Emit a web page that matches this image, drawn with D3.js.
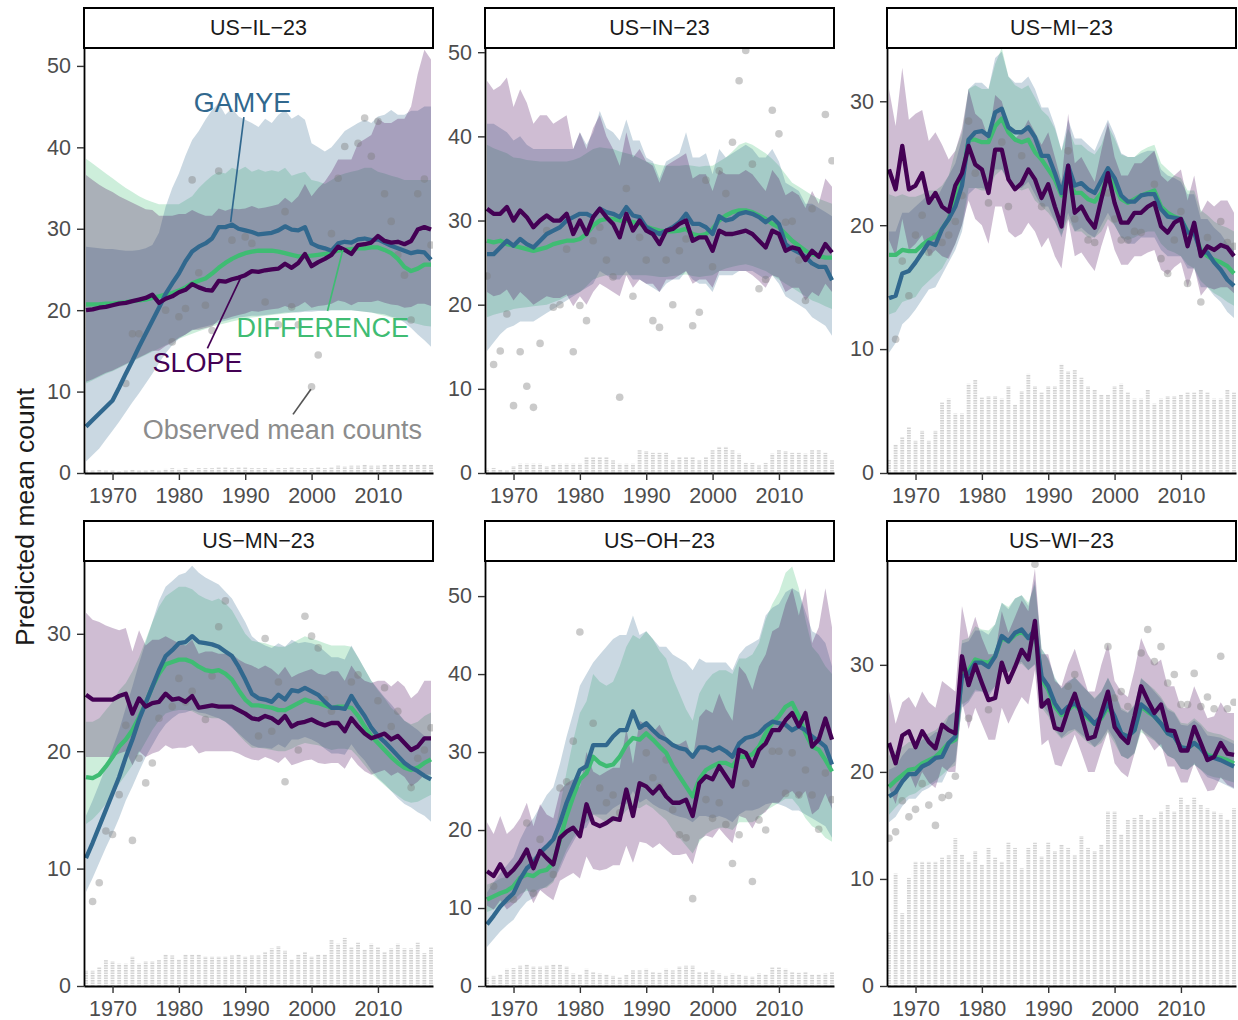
<!DOCTYPE html>
<html><head><meta charset="utf-8">
<script src="https://cdn.jsdelivr.net/npm/d3@7"></script>
<style>body{margin:0;background:#fff}svg{display:block}</style>
</head><body><svg id="chart" width="1238" height="1020"></svg>
<script>
// ---------------- DATA ----------------
const years = [1966,1967,1968,1969,1970,1971,1972,1973,1974,1975,1976,1977,1978,1979,1980,1981,1982,1983,1984,1985,1986,1987,1988,1989,1990,1991,1992,1993,1994,1995,1996,1997,1998,1999,2000,2001,2002,2003,2004,2005,2006,2007,2008,2009,2010,2011,2012,2013,2014,2015,2016,2017,2018];
const panelNames = ["US\u2212IL\u221223","US\u2212IN\u221223","US\u2212MI\u221223","US\u2212MN\u221223","US\u2212OH\u221223","US\u2212WI\u221223"];
const xTickValues = [1970,1980,1990,2000,2010];
const yTickSets = [[0,10,20,30,40,50],[0,10,20,30,40,50],[0,10,20,30],[0,10,20,30],[0,10,20,30,40,50],[0,10,20,30]];
const yMaxes = [52.2,50.5,34.3,36.2,54.5,39.7];
const modelNames = ["DIFFERENCE","GAMYE","SLOPE"];
const modelColors = {DIFFERENCE:"#3fbc73", GAMYE:"#31688e", SLOPE:"#440154"};

// US-IL-23
const IL_gamye=[5.7,6.5,7.3,8.1,8.9,10.5,12.2,13.8,15.5,17.1,18.7,20.3,22.0,23.3,24.5,26.0,27.2,27.8,28.2,28.8,30.2,30.2,30.5,30.0,29.8,29.6,29.3,29.4,29.5,29.8,30.3,29.9,29.8,30.2,28.2,27.8,27.6,27.3,28.2,28.4,28.3,28.7,28.8,28.6,28.7,28.3,27.9,27.6,27.3,27.0,27.2,27.1,26.2];
const IL_diff=[20.7,20.7,20.7,20.8,20.8,20.9,21.0,21.1,21.2,21.3,21.5,21.7,21.9,22.1,22.4,22.8,23.3,23.6,23.9,24.5,25.2,25.8,26.3,26.7,27.0,27.2,27.3,27.3,27.3,27.2,27.0,26.8,26.6,26.6,26.7,26.8,26.9,27.1,27.3,27.4,27.5,27.6,27.6,27.7,27.7,27.4,27.0,26.3,25.3,24.8,25.1,25.6,25.6];
const IL_slope=[20.0,20.1,20.3,20.4,20.6,20.8,20.9,21.1,21.3,21.5,21.9,20.9,21.4,21.7,22.2,22.5,23.2,22.8,22.5,22.4,23.6,23.5,23.8,24.0,24.3,24.8,24.7,24.9,25.0,25.1,25.7,25.2,25.8,26.9,25.4,25.9,26.3,26.8,27.8,27.4,26.9,28.0,28.1,28.3,29.1,28.5,28.3,28.4,28.1,28.5,29.9,30.2,29.9];
const IL_gLo=[1.4,2.2,3.0,4.1,5.2,6.3,7.5,8.7,9.8,11.0,12.2,13.5,14.7,15.7,16.5,17.0,17.5,17.8,18.0,18.2,18.5,18.7,18.9,19.1,19.2,19.3,19.3,19.4,19.5,19.6,19.7,19.7,19.7,19.8,19.8,19.9,19.9,20.0,20.0,20.0,20.0,19.9,19.8,19.7,19.6,19.5,19.2,19.0,18.5,17.8,17.0,16.3,15.5];
const IL_gHi=[27.8,27.7,27.6,27.5,27.5,27.4,27.3,27.3,27.4,27.6,28.0,29.5,32.7,35.0,36.8,39.0,40.9,42.0,43.4,44.6,45.4,44.0,44.8,43.8,43.4,43.0,42.5,43.5,43.0,44.0,44.6,43.5,44.0,43.4,40.5,40.0,39.5,40.0,41.0,42.0,42.5,43.0,43.4,43.0,43.8,44.0,44.6,44.0,44.0,44.5,44.5,45.0,45.0];
const IL_dLo=[11.0,11.4,11.8,12.2,12.5,12.9,13.3,13.7,14.1,14.5,14.9,15.3,15.7,16.1,16.5,16.8,17.1,17.4,17.7,18.0,18.2,18.4,18.6,18.8,19.0,19.1,19.2,19.3,19.4,19.5,19.6,19.7,19.8,19.9,20.0,20.0,20.0,20.0,20.0,20.0,20.0,19.9,19.8,19.7,19.5,19.3,19.1,18.9,18.7,18.5,18.3,18.1,18.0];
const IL_dHi=[38.6,38.0,37.4,36.8,36.2,35.6,35.0,34.5,34.0,33.6,33.3,33.0,33.0,33.0,33.0,33.5,34.0,35.0,35.8,36.5,37.0,36.8,37.5,37.2,37.6,37.0,37.3,37.0,37.2,37.0,37.5,36.5,36.8,37.0,36.0,35.8,35.5,36.0,36.5,36.8,37.0,37.2,37.5,37.5,37.0,36.8,36.5,36.3,36.0,36.0,36.0,36.0,36.0];
const IL_sLo=[11.2,11.5,11.9,12.3,12.6,13.0,13.4,13.8,14.2,14.6,15.0,15.0,15.6,16.0,16.6,17.0,17.6,17.6,17.8,18.0,18.8,18.9,19.2,19.4,19.6,19.9,19.8,20.0,20.1,20.2,20.5,20.2,20.5,21.0,20.3,20.5,20.6,20.8,21.2,21.0,20.6,21.0,21.0,21.0,21.2,20.9,20.7,20.6,20.3,20.4,20.8,20.8,20.5];
const IL_sHi=[36.6,36.0,35.4,34.9,34.5,34.0,33.6,33.2,32.8,32.4,32.3,31.6,31.6,31.6,31.8,31.8,32.3,31.9,31.6,31.6,32.5,32.2,32.5,32.4,32.5,32.8,32.5,32.6,32.8,33.0,33.8,33.2,34.0,35.5,34.0,35.0,35.8,37.0,38.5,38.5,38.5,40.5,41.0,41.5,43.5,43.0,43.0,43.5,43.5,45.0,49.0,52.0,50.8];
const IL_obs=[null,null,null,null,null,null,11.0,17.1,17.1,null,null,null,20.0,16.1,19.2,20.2,36.0,24.6,20.6,17.5,37.1,null,28.6,null,29.0,28.2,null,21.0,null,18.2,32.1,20.4,18.2,null,10.6,14.5,null,29.4,36.2,40.1,null,40.5,43.6,38.9,43.2,34.3,30.9,26.8,24.3,18.8,34.3,36.1,28.0];
const IL_routes=[0.3,0.3,0.4,0.3,0.3,0.2,0.3,0.4,0.3,0.3,0.4,0.3,0.5,0.6,0.5,0.6,0.4,0.6,0.6,0.6,0.7,0.7,0.6,0.7,0.7,0.6,0.6,0.6,0.5,0.6,0.6,0.7,0.6,0.6,0.6,0.7,0.6,0.7,0.9,0.8,0.9,0.9,1.0,0.9,0.9,1.0,1.0,1.0,1.0,1.0,1.0,1.0,1.0];

// US-IN-23
const IN_gamye=[26.0,26.0,26.8,27.6,27.0,27.8,27.2,26.8,27.6,28.4,28.8,29.2,30.0,30.4,30.8,30.8,30.4,31.4,31.0,30.8,30.4,31.6,30.6,30.4,29.2,28.8,28.4,28.8,29.2,29.8,30.8,29.6,29.6,29.2,28.4,30.5,30.0,30.2,30.8,31.0,30.8,30.4,29.8,30.4,29.6,27.2,26.6,26.2,25.7,24.9,24.5,24.5,22.9];
const IN_diff=[27.6,27.4,27.6,27.2,27.0,26.8,26.6,26.4,26.6,26.8,27.2,27.4,27.6,27.6,27.8,28.4,29.4,30.0,30.2,30.2,30.0,30.0,29.8,29.6,29.3,29.0,28.8,28.7,28.7,28.8,29.0,28.4,28.2,28.4,29.0,30.0,30.6,31.0,31.2,31.2,31.0,30.6,30.2,29.6,29.2,28.4,27.6,27.0,26.4,26.0,25.8,25.6,25.6];
const IN_slope=[31.4,30.8,30.8,31.6,30.0,31.2,30.4,29.2,30.0,30.6,30.0,30.0,30.8,28.4,30.0,28.4,30.4,31.4,30.4,29.6,28.0,30.8,28.8,30.0,28.8,28.4,27.2,28.8,29.0,29.6,30.0,27.6,28.0,28.0,26.4,28.8,28.4,28.4,28.6,28.8,28.4,27.6,26.8,28.8,28.4,26.4,26.8,26.6,25.3,26.4,25.7,27.2,26.2];
const IN_gLo=[14.5,15.5,16.5,17.2,17.5,18.0,18.0,18.0,18.5,19.0,19.5,20.0,20.5,21.0,21.5,22.0,22.5,24.0,23.5,23.0,23.0,24.0,23.0,23.0,22.5,22.0,21.5,22.5,23.0,23.0,24.0,23.0,22.5,22.5,21.5,23.5,23.5,23.5,24.0,24.0,24.0,23.5,23.0,23.5,22.5,21.0,20.5,20.0,19.5,18.5,18.0,17.5,16.3];
const IN_gHi=[41.5,41.5,41.0,40.5,39.5,40.0,39.0,38.5,38.5,38.5,38.5,38.5,38.5,38.5,40.5,39.0,40.5,43.0,41.0,40.5,39.5,42.0,39.5,39.5,37.5,37.0,35.0,37.0,37.5,38.0,40.5,37.5,37.5,38.0,35.5,38.5,37.5,38.0,38.5,39.0,38.5,37.5,37.5,38.5,37.0,34.5,34.0,33.5,32.0,32.0,31.5,31.0,30.5];
const IN_dLo=[18.5,18.8,19.0,19.2,19.5,19.6,19.7,19.8,19.9,20.0,20.3,20.6,21.0,21.2,21.5,22.2,23.0,23.3,23.5,23.5,23.5,23.5,23.5,23.5,23.5,23.4,23.3,23.3,23.4,23.5,23.6,23.4,23.3,23.4,23.5,24.0,24.3,24.5,24.7,24.8,24.6,24.3,24.0,23.5,23.0,22.5,22.0,21.5,21.0,20.5,20.2,19.8,19.5];
const IN_dHi=[39.0,38.6,38.3,38.0,37.5,37.4,37.2,37.1,37.0,37.0,37.0,37.0,37.0,37.2,37.5,38.0,38.5,38.7,38.6,38.5,38.2,38.0,37.8,37.4,37.0,36.8,36.6,36.5,36.5,36.5,36.6,36.5,36.4,36.5,36.5,37.0,37.5,38.2,39.0,39.3,39.0,38.5,38.0,37.3,36.5,35.5,34.5,34.0,33.5,33.0,32.6,32.3,32.0];
const IN_sLo=[21.5,21.0,21.2,21.8,20.5,21.5,20.8,20.0,20.5,21.0,20.8,20.8,21.2,19.8,21.0,20.0,21.5,22.5,22.0,21.5,21.0,23.5,22.0,23.0,22.5,22.5,21.5,23.0,23.0,23.5,24.0,22.5,23.0,23.0,22.0,24.0,24.0,24.0,24.0,24.0,23.5,22.8,22.0,23.5,23.2,21.5,22.0,22.0,20.5,21.5,21.0,22.5,21.5];
const IN_sHi=[46.6,45.5,46.0,47.0,43.5,45.6,44.0,41.5,42.5,42.5,41.5,42.0,42.5,38.5,40.5,38.5,41.0,42.5,40.0,38.5,36.5,40.5,37.5,38.5,37.0,36.5,34.5,36.5,37.0,37.5,38.0,35.0,35.5,35.5,33.5,36.0,35.5,35.5,35.5,36.0,35.5,34.5,33.5,36.0,35.0,33.0,33.5,33.0,31.5,33.5,32.0,35.0,34.0];
const IN_obs=[23.4,12.9,14.5,18.9,8.0,14.4,10.3,7.8,15.4,28.8,19.7,20.0,26.6,14.4,19.9,18.1,27.6,29.2,25.3,23.3,9.0,33.8,21.0,28.0,25.3,18.1,17.3,25.3,20.0,26.4,27.8,17.5,19.1,34.8,24.5,35.9,33.2,39.3,46.6,50.2,36.7,21.9,23.0,43.1,40.3,29.8,29.9,25.3,20.5,31.4,null,42.6,37.1];
const IN_routes=[0.5,0.6,0.4,0.3,0.8,1.1,1.1,1.1,1.1,0.8,1.0,1.1,1.1,1.1,1.1,1.9,1.9,1.9,1.9,1.5,1.1,1.1,1.1,2.7,2.6,2.4,2.4,2.4,1.5,1.9,1.9,1.9,1.5,1.9,2.7,3.1,3.1,2.7,2.3,1.2,1.2,0.9,1.2,2.3,2.7,2.6,2.4,2.4,2.3,2.7,2.7,2.4,1.5];

// US-MI-23
const MI_gamye=[14.1,14.3,16.1,16.3,17.0,17.8,18.6,18.4,19.7,20.5,21.5,23.2,26.9,27.5,27.6,27.2,29.1,29.4,27.9,27.5,27.5,27.9,27.1,25.6,25.6,24.2,22.6,24.8,23.2,23.4,22.9,22.6,23.6,24.6,23.8,22.4,21.9,21.9,22.4,22.5,22.5,21.3,20.7,20.6,20.5,19.4,19.4,17.8,17.8,17.0,16.4,15.6,15.1];
const MI_diff=[17.6,17.6,18.0,17.9,17.9,18.4,18.8,19.1,19.7,20.5,22.1,23.7,26.9,26.9,26.7,26.7,28.0,28.6,27.5,26.9,26.7,26.9,25.9,25.3,24.5,23.7,22.4,23.7,22.6,22.6,22.1,21.9,22.6,24.0,23.2,22.1,21.8,22.1,22.4,22.6,22.8,21.5,21.0,20.7,20.5,19.5,19.4,18.0,17.5,17.2,17.0,16.7,16.1];
const MI_slope=[24.5,22.9,26.4,22.9,23.2,24.2,21.8,22.6,21.5,21.1,23.2,24.2,26.4,24.9,24.5,22.6,26.1,26.1,23.7,22.9,23.4,24.5,23.7,22.2,23.3,21.5,19.9,24.8,21.0,21.5,20.5,19.8,22.1,24.2,21.8,20.2,20.2,21.0,21.0,21.5,21.8,19.9,19.4,20.2,20.5,18.3,20.2,17.5,18.3,18.0,18.4,18.2,17.5];
const MI_gLo=[9.7,10.5,12.0,12.5,13.2,14.0,14.8,15.0,16.0,17.0,18.0,19.5,22.5,23.0,23.0,22.8,24.5,24.5,23.5,23.0,23.0,23.5,22.5,21.5,21.5,20.3,19.0,21.0,19.5,19.8,19.3,19.0,20.0,21.0,20.0,19.0,18.5,18.5,19.0,19.0,19.0,18.0,17.5,17.5,17.5,16.5,16.5,15.0,15.0,14.3,13.8,13.0,12.5];
const MI_gHi=[19.5,19.5,21.0,21.0,21.5,22.0,22.5,22.0,23.0,24.0,25.0,27.0,31.0,31.5,31.5,31.0,33.5,34.0,32.0,31.5,31.5,32.0,31.0,29.5,29.5,28.0,26.0,28.5,27.0,27.0,26.5,26.0,27.3,28.5,27.3,25.8,25.5,25.5,25.8,26.0,26.0,24.5,24.0,23.8,23.5,22.5,22.5,20.5,20.5,19.8,19.3,18.5,18.0];
const MI_dLo=[12.8,13.0,13.8,14.0,14.2,15.0,15.5,16.0,16.5,17.5,18.5,20.0,23.0,23.0,22.8,22.8,24.0,24.5,23.5,23.0,22.8,23.0,22.0,21.5,21.0,20.3,19.2,20.5,19.5,19.5,19.0,19.0,19.5,20.5,20.0,19.0,18.8,19.0,19.3,19.5,19.5,18.5,18.0,17.8,17.5,16.8,16.5,15.5,15.0,14.5,14.2,13.8,13.5];
const MI_dHi=[22.5,22.3,22.5,22.3,22.3,22.5,22.8,22.8,23.2,24.0,26.0,27.5,31.0,31.3,31.0,31.0,33.0,34.3,32.0,31.3,31.0,31.3,30.3,29.3,28.8,27.8,26.0,27.8,26.5,26.5,26.0,25.7,26.5,28.0,27.0,25.7,25.5,25.5,26.0,26.3,26.5,25.0,24.5,24.0,23.8,22.8,22.8,21.2,20.8,20.3,20.0,19.8,19.5];
const MI_sLo=[18.8,17.5,20.5,18.0,18.5,19.2,17.5,18.0,17.5,17.3,18.5,20.0,22.0,20.5,20.0,18.5,21.5,21.5,19.5,19.0,19.3,20.2,19.5,18.2,19.0,17.5,16.5,20.5,17.5,17.8,17.0,16.3,18.3,20.0,18.0,16.8,16.8,17.5,17.5,17.8,18.0,16.4,16.0,16.6,17.0,15.0,16.6,14.3,15.0,14.8,15.0,15.0,14.5];
const MI_sHi=[31.0,28.0,32.7,28.5,29.0,29.3,26.8,27.5,26.5,25.3,26.0,27.8,31.0,29.0,28.5,27.0,30.5,30.0,28.0,27.0,27.5,28.5,27.5,26.5,27.5,25.5,23.5,29.0,25.0,25.5,24.5,23.5,26.0,28.3,25.5,24.0,24.0,25.0,25.0,25.5,26.0,24.0,23.5,24.0,24.5,22.0,24.0,21.0,22.0,21.5,22.0,22.0,21.0];
const MI_obs=[null,10.8,17.1,14.3,19.2,20.8,17.8,19.1,18.6,19.2,20.3,22.4,28.4,24.2,null,21.8,null,26.7,21.5,null,25.6,null,null,21.5,null,null,null,26.0,20.5,null,18.8,18.6,null,22.6,20.5,18.8,18.8,19.5,19.4,null,23.3,17.3,16.1,18.8,21.1,15.3,null,13.8,19.0,null,20.3,18.6,18.3];
const MI_routes=[1.1,2.3,2.9,3.7,2.6,3.4,2.6,3.4,5.7,6.0,4.8,4.8,7.2,7.5,6.1,6.2,6.2,6.0,7.0,5.5,6.6,8.0,7.0,6.5,7.0,7.0,8.8,8.2,8.3,7.7,7.0,6.7,6.3,6.3,7.0,7.2,6.5,6.0,6.0,6.7,5.6,6.0,6.2,6.2,6.3,6.5,6.5,6.7,6.5,6.0,6.0,6.7,6.5];

// US-MN-23
const MN_gamye=[10.9,12.2,13.6,15.0,16.4,17.8,19.5,21.0,22.7,24.1,25.5,26.9,28.1,28.6,29.2,29.3,29.8,29.3,29.2,29.1,28.9,28.5,28.1,27.2,26.1,24.9,24.5,24.4,24.2,24.8,24.4,25.2,25.1,25.4,25.1,24.8,24.2,23.7,23.7,23.6,24.7,23.8,23.0,22.0,21.3,20.8,20.2,19.6,19.0,18.6,18.3,17.9,17.6];
const MN_diff=[17.8,17.7,18.0,18.7,19.5,20.4,21.0,21.8,22.9,24.1,25.5,26.6,27.4,27.6,27.8,27.8,27.6,27.2,26.9,26.8,26.9,26.6,26.1,25.2,24.4,23.9,23.9,23.8,23.7,23.5,23.5,23.8,24.1,24.4,24.2,24.1,23.9,23.7,23.8,23.8,23.7,23.0,22.1,21.3,20.7,20.1,19.5,19.0,18.6,18.4,18.6,19.0,19.3];
const MN_slope=[24.8,24.4,24.4,24.4,24.4,24.7,24.9,23.2,24.5,23.8,24.1,24.2,24.9,24.4,24.5,24.2,24.7,23.7,23.8,23.9,23.8,23.8,23.8,23.5,23.2,22.8,22.7,23.0,22.8,22.4,23.0,22.1,22.4,22.5,22.7,22.4,22.2,22.4,22.4,21.7,22.8,22.1,21.5,21.1,21.3,21.5,21.0,21.3,20.7,20.1,20.4,21.1,21.1];
const MN_gLo=[8.0,9.2,10.5,11.8,13.0,14.3,15.8,17.0,18.3,19.5,20.5,21.5,22.3,22.8,23.2,23.3,23.5,23.3,23.2,23.0,22.8,22.5,22.0,21.5,21.0,20.5,20.3,20.3,20.2,20.6,20.3,21.0,21.0,21.2,21.0,20.7,20.2,19.8,19.8,19.7,20.6,19.8,19.2,18.4,17.7,17.2,16.6,16.0,15.5,15.2,14.8,14.5,14.0];
const MN_gHi=[14.5,15.8,17.2,18.7,20.2,21.8,23.7,25.5,27.5,29.3,31.0,32.8,34.0,34.5,35.0,35.2,35.8,35.2,34.8,34.5,34.2,33.6,33.0,32.0,31.0,29.8,29.3,29.0,28.8,29.2,28.9,29.5,29.2,29.3,29.2,29.0,28.5,28.0,28.0,27.8,29.0,28.0,27.0,26.0,25.3,24.6,24.0,23.3,22.6,22.2,21.8,21.3,21.0];
const MN_dLo=[13.8,14.2,14.8,15.5,16.3,17.2,18.0,18.8,19.8,20.8,21.8,22.6,23.2,23.4,23.5,23.5,23.4,23.1,22.9,22.8,22.8,22.5,22.1,21.4,20.8,20.3,20.3,20.2,20.1,20.0,20.0,20.2,20.5,20.7,20.6,20.5,20.3,20.1,20.2,20.2,20.1,19.5,18.8,18.1,17.6,17.1,16.6,16.2,15.8,15.6,15.7,16.0,16.3];
const MN_dHi=[22.5,22.5,22.8,23.5,24.2,25.2,25.8,26.8,28.0,29.5,31.0,32.3,33.2,33.6,34.0,34.0,33.8,33.3,33.0,32.8,33.0,32.6,32.0,31.0,30.0,29.4,29.3,29.2,29.0,28.9,28.9,29.2,29.5,29.8,29.6,29.4,29.2,29.0,29.0,29.0,28.9,28.0,27.0,26.0,25.2,24.5,23.7,23.2,22.6,22.3,22.5,23.0,23.3];
const MN_sLo=[19.5,19.5,19.5,19.5,19.5,19.8,20.0,18.8,20.0,19.5,19.8,20.0,20.5,20.2,20.3,20.3,20.5,19.8,20.0,20.0,20.0,20.0,20.0,19.8,19.5,19.3,19.2,19.5,19.3,19.0,19.5,18.8,19.0,19.2,19.3,19.0,18.9,19.0,19.0,18.5,19.5,18.8,18.3,18.0,18.2,18.4,17.9,18.2,17.8,17.0,17.4,18.0,18.0];
const MN_sHi=[31.8,31.2,31.0,30.7,30.5,30.3,30.5,28.5,30.3,29.0,29.5,29.5,29.8,29.5,29.2,29.0,29.5,28.3,28.5,28.5,28.3,28.3,28.3,27.8,27.5,27.3,27.0,27.3,27.0,26.5,27.2,26.3,26.6,26.8,27.0,26.6,26.5,26.8,26.8,26.0,27.3,26.5,26.0,25.8,26.0,26.0,25.5,26.0,25.5,24.5,25.0,26.0,26.0];
const MN_obs=[null,7.2,8.8,13.2,12.9,16.3,22.2,12.4,19.4,17.3,19.0,22.8,null,23.8,26.2,24.2,25.1,null,22.7,26.4,30.6,32.8,null,null,null,null,21.3,29.6,21.7,25.9,17.4,null,20.1,31.5,29.8,28.8,24.4,23.4,null,null,25.9,26.5,null,null,24.3,25.4,22.1,23.4,null,16.9,19.4,20.1,22.0];
const MN_routes=[1.3,1.3,1.6,2.2,2.1,1.9,1.9,2.5,1.9,2.1,2.1,2.2,2.7,2.6,2.3,2.7,2.7,2.7,2.5,2.5,2.5,2.5,2.6,2.7,2.5,2.6,2.6,2.9,3.2,3.4,3.0,2.3,2.7,2.9,2.5,2.7,2.7,3.9,3.6,4.1,3.3,3.7,3.1,3.6,3.3,2.9,3.2,3.6,3.2,3.2,3.7,2.8,3.3];

// US-OH-23
const OH_gamye=[7.9,9.0,10.2,11.1,11.9,13.7,15.1,15.8,17.1,17.9,18.8,20.9,23.5,25.6,27.7,28.2,30.9,30.9,30.9,32.0,32.8,32.8,35.2,33.1,33.7,32.8,32.0,31.6,30.9,30.5,30.3,29.4,30.6,30.6,30.2,30.6,30.1,29.4,31.1,31.8,32.0,32.4,33.3,33.9,33.7,33.5,32.8,33.3,32.8,32.0,31.4,30.7,28.4];
const OH_diff=[11.1,11.5,11.9,12.2,12.8,13.9,14.3,14.1,14.7,14.9,15.8,18.8,21.8,24.3,26.5,27.3,29.4,28.6,28.2,28.4,29.4,30.9,31.8,31.6,32.4,31.6,30.7,29.9,28.2,26.9,25.6,24.3,26.5,27.7,28.2,28.6,28.6,28.2,29.4,29.4,29.7,30.7,32.4,33.7,34.6,35.8,36.3,34.6,32.4,30.7,30.3,29.0,27.5];
const OH_slope=[14.7,14.1,15.6,14.1,14.9,16.0,17.5,15.1,17.3,16.4,15.6,19.0,19.8,20.3,19.2,23.3,20.9,20.5,20.9,21.5,21.3,25.2,21.8,26.0,25.6,24.7,25.6,24.3,23.5,23.5,23.9,21.8,26.0,26.9,26.5,28.2,26.9,25.6,30.3,29.9,28.2,30.3,31.1,32.8,32.8,34.1,35.0,33.3,35.0,30.7,31.6,34.3,31.6];
const OH_gLo=[5.0,6.0,7.0,7.8,8.5,9.8,10.8,11.3,12.3,12.8,13.5,15.0,17.0,18.5,20.0,20.3,22.0,22.0,22.0,22.8,23.3,23.3,25.0,23.5,24.0,23.3,22.8,22.5,22.0,21.7,21.5,21.0,21.8,21.8,21.5,21.8,21.5,21.0,22.0,22.5,22.5,22.8,23.3,23.5,23.3,23.0,22.5,22.5,22.0,21.5,21.0,20.5,19.0];
const OH_gHi=[12.0,13.3,14.5,15.5,16.5,18.8,20.5,21.5,23.0,24.5,25.5,28.5,32.0,35.0,38.5,40.0,41.5,42.5,43.5,44.5,45.0,45.0,47.5,45.0,45.5,44.5,43.5,43.5,42.5,42.0,41.5,40.5,42.0,41.5,41.5,41.5,41.5,40.5,42.5,43.5,44.0,44.5,47.5,48.5,49.0,50.5,51.0,50.5,48.0,45.5,45.0,44.0,41.0];
const OH_dLo=[9.5,9.8,10.2,10.5,11.0,11.8,12.2,12.0,12.5,12.6,13.3,15.5,17.5,19.0,20.5,21.0,22.0,21.5,21.0,21.0,21.5,22.5,23.0,22.8,23.3,22.8,22.0,21.3,20.0,19.0,18.0,17.0,18.5,19.5,20.0,20.3,20.3,20.0,21.0,21.0,21.0,21.5,22.5,23.0,23.5,24.0,24.0,23.0,21.5,20.5,20.0,19.0,18.5];
const OH_dHi=[13.0,13.3,13.8,14.0,14.8,16.2,16.8,16.5,17.3,17.6,18.8,23.0,27.5,31.5,35.0,36.5,40.0,39.0,38.5,39.0,41.0,43.5,45.0,44.5,45.5,44.5,43.0,42.0,39.5,37.5,35.5,34.0,37.5,39.0,40.0,40.5,40.5,40.0,42.0,42.0,42.5,44.0,47.0,49.0,50.5,53.0,53.8,51.0,47.0,43.5,42.5,41.0,40.0];
const OH_sLo=[10.3,9.8,11.0,9.8,10.5,11.3,12.5,10.6,12.3,11.6,11.0,13.5,14.0,14.5,13.8,16.6,15.0,14.8,15.0,15.5,15.5,18.0,15.8,18.5,18.3,17.7,18.3,17.5,16.8,16.8,17.0,15.6,18.8,19.3,19.0,20.2,19.2,18.3,21.8,21.5,20.2,21.8,22.3,23.5,23.5,24.5,25.0,24.0,25.0,22.0,22.7,24.7,22.7];
const OH_sHi=[21.0,19.5,21.8,19.5,20.3,21.5,23.5,20.5,23.3,22.0,21.5,25.0,26.0,26.5,25.5,30.0,27.5,27.0,27.5,28.0,28.0,33.0,28.5,34.0,33.5,32.5,33.5,32.0,31.0,31.0,31.5,29.0,34.5,35.5,35.0,37.5,35.5,34.0,41.0,40.0,38.0,41.0,42.5,45.5,46.0,49.0,51.0,47.5,51.0,44.0,46.0,51.0,46.0];
const OH_obs=[null,12.8,null,null,11.1,null,20.9,11.9,18.8,null,14.3,25.4,26.2,31.4,45.4,null,33.7,25.4,23.5,24.5,22.2,null,null,null,29.9,26.7,25.6,29.0,22.6,19.4,19.0,11.2,null,23.9,21.5,23.5,20.7,15.7,19.4,26.0,13.4,21.3,20.0,30.1,30.1,24.7,29.9,24.5,27.7,24.5,20.1,27.3,23.9];
const OH_routes=[1.1,1.3,1.5,2.2,2.3,2.6,2.8,2.5,2.5,2.6,2.8,2.8,2.5,1.6,1.5,2.2,1.8,1.6,1.5,1.3,1.1,1.4,2.0,2.0,2.2,1.8,1.7,2.2,2.0,2.5,2.6,2.6,1.8,1.8,2.0,1.6,1.3,1.6,1.5,1.3,1.2,1.6,1.5,2.4,2.4,2.2,1.8,1.7,1.8,1.5,1.5,1.6,1.8];

// US-WI-23
const WI_gamye=[17.7,18.1,19.1,19.8,19.8,20.5,20.8,21.3,21.4,22.7,23.3,28.9,29.2,30.2,30.2,29.8,30.8,32.7,32.2,33.0,33.3,32.5,33.3,28.9,28.0,26.4,25.5,26.1,26.4,25.8,25.2,24.5,25.2,26.4,25.2,23.6,23.3,23.9,26.3,25.8,25.2,24.5,23.6,23.3,22.3,22.2,22.7,22.2,21.4,21.3,21.1,20.8,20.5];
const WI_diff=[18.6,19.2,19.7,20.2,20.3,20.8,21.1,21.4,22.0,22.7,23.0,29.2,29.5,30.5,30.3,30.2,30.8,32.5,32.2,32.8,33.1,32.5,33.1,28.6,27.7,26.1,25.3,25.8,26.3,25.6,25.0,24.5,25.0,26.1,25.0,23.6,23.3,23.9,26.1,25.6,25.2,24.5,23.6,23.3,22.3,22.2,22.7,22.2,21.6,21.4,21.3,21.1,20.8];
const WI_slope=[22.7,20.8,23.4,23.8,22.3,23.8,22.8,22.2,24.4,23.9,23.6,30.8,28.1,30.0,28.3,26.7,26.9,30.2,28.4,29.8,31.4,30.5,34.1,26.1,26.7,24.1,23.9,25.8,27.3,25.3,23.1,23.3,25.5,27.5,24.2,23.3,22.7,25.2,28.0,26.7,25.5,26.3,23.9,23.8,22.0,22.0,24.2,22.7,21.1,21.4,22.7,21.7,21.6];
const WI_gLo=[15.3,15.8,16.8,17.5,17.5,18.2,18.5,19.0,19.0,20.3,21.0,26.0,26.5,27.5,27.5,27.0,28.0,29.8,29.3,30.0,30.3,29.5,30.0,26.3,25.5,24.0,23.2,23.8,24.0,23.5,23.0,22.3,23.0,24.0,23.0,21.5,21.2,21.8,24.0,23.5,23.0,22.3,21.5,21.2,20.3,20.2,20.7,20.2,19.5,19.3,19.0,18.7,18.4];
const WI_gHi=[20.2,20.5,21.5,22.2,22.2,23.0,23.2,23.7,23.8,25.2,25.7,32.0,32.2,33.2,33.2,32.8,33.8,35.8,35.2,36.2,36.5,35.5,38.0,31.5,30.6,28.8,27.8,28.5,28.8,28.2,27.5,26.8,27.5,28.8,27.5,25.8,25.5,26.2,28.7,28.2,27.5,26.8,25.8,25.5,24.4,24.3,24.8,24.3,23.4,23.3,23.2,22.9,22.6];
const WI_dLo=[16.0,16.7,17.3,17.8,18.0,18.5,18.8,19.2,19.7,20.3,20.6,26.3,26.7,27.7,27.5,27.4,28.0,29.6,29.3,29.9,30.1,29.5,30.1,26.0,25.2,23.8,23.1,23.5,23.9,23.3,22.7,22.3,22.7,23.7,22.7,21.5,21.2,21.7,23.7,23.3,22.9,22.3,21.5,21.2,20.3,20.2,20.7,20.2,19.7,19.5,19.4,19.2,19.0];
const WI_dHi=[21.5,22.0,22.3,22.8,22.8,23.3,23.6,23.9,24.5,25.3,25.6,32.3,32.5,33.6,33.3,33.2,33.8,35.8,35.4,36.2,36.5,35.8,37.5,31.5,30.5,28.7,27.8,28.3,28.9,28.1,27.5,26.9,27.5,28.8,27.5,26.0,25.6,26.3,28.8,28.2,27.7,27.0,26.0,25.6,24.6,24.5,25.0,24.5,23.8,23.6,23.5,23.2,22.9];
const WI_sLo=[18.5,17.0,19.5,20.0,18.5,20.0,19.0,18.5,20.5,20.0,20.0,26.5,24.0,26.0,24.5,23.0,23.0,26.0,24.5,25.8,27.0,26.3,29.5,22.5,23.0,20.7,20.5,22.0,23.5,21.8,20.0,20.0,22.0,23.8,20.8,20.0,19.5,21.7,24.0,23.0,22.0,22.6,20.5,20.5,19.0,19.0,20.8,19.5,18.2,18.3,19.5,18.8,18.5];
const WI_sHi=[27.5,24.5,26.5,27.0,26.0,27.5,26.5,26.0,28.5,28.0,27.5,35.5,32.5,34.5,32.5,31.0,31.0,35.0,33.0,34.5,36.0,35.0,39.0,31.0,31.0,28.5,28.0,30.0,31.5,29.5,27.5,27.5,30.0,32.0,28.5,27.5,27.0,29.5,32.5,31.0,30.0,30.5,28.0,28.0,26.0,26.0,28.0,26.5,25.0,25.2,26.5,25.5,25.5];
const WI_obs=[13.8,14.4,17.3,15.8,16.5,18.9,16.9,15.0,17.6,17.8,19.6,null,25.0,null,null,25.8,null,null,null,null,null,null,39.4,null,null,null,null,28.0,29.1,null,null,null,null,31.7,26.9,27.5,26.1,null,31.1,33.3,30.3,31.7,28.3,29.1,26.3,26.3,29.2,26.1,27.0,25.9,30.8,25.9,26.5];
const WI_routes=[5.0,10.5,6.8,10.1,11.6,11.6,11.6,11.6,12.0,12.2,13.8,12.3,11.6,12.6,11.3,12.9,12.0,11.6,13.4,12.9,11.0,12.9,13.4,12.1,13.4,12.6,13.2,12.9,12.2,14.0,12.9,12.6,13.2,16.3,16.3,14.2,15.5,15.7,16.0,15.5,15.7,16.3,16.9,16.3,17.6,16.9,17.6,16.9,16.6,16.3,16.1,15.6,16.6];

// annotation labels (first panel), positioned in data units
const annoText   = ["GAMYE","DIFFERENCE","SLOPE","Observed mean counts"];
const annoModel  = ["GAMYE","DIFFERENCE","SLOPE","OBS"];
const annoYear   = [1989.6, 2001.7, 1982.8, 1995.6];
const annoValue  = [45.4, 17.8, 13.5, 5.3];
const leadYear1  = [1989.8, 2002.4, 1984.3, 1997.2];
const leadValue1 = [43.7, 19.9, 15.3, 7.2];
const leadYear2  = [1987.8, 2004.7, 1989.5, 1999.9];
const leadValue2 = [30.8, 27.4, 24.3, 10.3];

// --------------- BUILD ---------------
const src = [
  [IL_gamye,IL_diff,IL_slope,IL_gLo,IL_gHi,IL_dLo,IL_dHi,IL_sLo,IL_sHi,IL_obs,IL_routes],
  [IN_gamye,IN_diff,IN_slope,IN_gLo,IN_gHi,IN_dLo,IN_dHi,IN_sLo,IN_sHi,IN_obs,IN_routes],
  [MI_gamye,MI_diff,MI_slope,MI_gLo,MI_gHi,MI_dLo,MI_dHi,MI_sLo,MI_sHi,MI_obs,MI_routes],
  [MN_gamye,MN_diff,MN_slope,MN_gLo,MN_gHi,MN_dLo,MN_dHi,MN_sLo,MN_sHi,MN_obs,MN_routes],
  [OH_gamye,OH_diff,OH_slope,OH_gLo,OH_gHi,OH_dLo,OH_dHi,OH_sLo,OH_sHi,OH_obs,OH_routes],
  [WI_gamye,WI_diff,WI_slope,WI_gLo,WI_gHi,WI_dLo,WI_dHi,WI_sLo,WI_sHi,WI_obs,WI_routes]
];
const panels = src.map((s,i)=>({
  name: panelNames[i], yMax: yMaxes[i], yTicks: yTickSets[i],
  line: {GAMYE:s[0], DIFFERENCE:s[1], SLOPE:s[2]},
  lo:   {GAMYE:s[3], DIFFERENCE:s[5], SLOPE:s[7]},
  hi:   {GAMYE:s[4], DIFFERENCE:s[6], SLOPE:s[8]},
  obs: s[9], routes: s[10]
}));

const FONT = "'Liberation Sans', Arial, Helvetica, sans-serif";
const svg = d3.select("#chart");
svg.append("rect").attr("width",1238).attr("height",1020).attr("fill","#fff");
const colLeft = [84,485,887], rowTop = [48,561], panelW = 349, panelH = 425, stripH = 40;
const xDomain = [1965.7, 2018.3];
const defs = svg.append("defs");
const pat = defs.append("pattern").attr("id","routeDots").attr("patternUnits","userSpaceOnUse")
  .attr("width",2).attr("height",2.5);
pat.append("rect").attr("width",2).attr("height",1.5).attr("fill","#d0d0d0");

panels.forEach((p,i)=>{
  const col = i%3, row = Math.floor(i/3);
  const left = colLeft[col], top = rowTop[row];
  const x = d3.scaleLinear().domain(xDomain).range([left, left+panelW]);
  const y = d3.scaleLinear().domain([0, p.yMax]).range([top+panelH, top]);

  defs.append("clipPath").attr("id","clip"+i).append("rect")
    .attr("x",left).attr("y",top).attr("width",panelW).attr("height",panelH);
  const g = svg.append("g").attr("clip-path",`url(#clip${i})`);

  // route bars
  const barW = x(xDomain[0]+0.58) - x(xDomain[0]);
  g.append("g").selectAll("rect")
    .data(years.map((yr,k)=>({yr, v:p.routes[k]})))
    .join("rect")
    .attr("x", d=>x(d.yr)-barW/2).attr("width", barW)
    .attr("y", d=>y(d.v)).attr("height", d=>y(0)-y(d.v))
    .attr("fill","url(#routeDots)");

  // ribbons
  modelNames.forEach(m=>{
    const data = years.map((yr,k)=>({yr, lo:p.lo[m][k], hi:p.hi[m][k]}));
    g.append("path").datum(data)
      .attr("d", d3.area().x(d=>x(d.yr)).y0(d=>y(d.lo)).y1(d=>y(d.hi)))
      .attr("fill", modelColors[m]).attr("fill-opacity", 0.26);
  });

  // observed points
  g.append("g").selectAll("circle")
    .data(years.map((yr,k)=>({yr, v:p.obs[k]})).filter(d=>d.v!=null))
    .join("circle")
    .attr("cx", d=>x(d.yr)).attr("cy", d=>y(d.v)).attr("r", 3.8)
    .attr("fill","#7a7a7a").attr("fill-opacity",0.4);

  // lines
  modelNames.forEach(m=>{
    const data = years.map((yr,k)=>({yr, v:p.line[m][k]}));
    g.append("path").datum(data)
      .attr("d", d3.line().x(d=>x(d.yr)).y(d=>y(d.v)))
      .attr("fill","none").attr("stroke", modelColors[m])
      .attr("stroke-width", 4.3).attr("stroke-linejoin","round").attr("stroke-linecap","butt");
  });

  // axes
  const xa = svg.append("g").attr("transform",`translate(0,${top+panelH})`)
    .call(d3.axisBottom(x).tickValues(xTickValues).tickFormat(d3.format("d"))
      .tickSize(7).tickPadding(8).tickSizeOuter(0));
  const ya = svg.append("g").attr("transform",`translate(${left},0)`)
    .call(d3.axisLeft(y).tickValues(p.yTicks).tickFormat(d3.format("d"))
      .tickSize(7).tickPadding(6).tickSizeOuter(0));
  [xa,ya].forEach(a=>{
    a.attr("font-family",FONT).attr("font-size",21.5);
    a.select(".domain").attr("stroke","#000").attr("stroke-width",1.8);
    a.selectAll(".tick line").attr("stroke","#333").attr("stroke-width",1.4);
    a.selectAll(".tick text").attr("fill","#4d4d4d");
  });

  // strip
  svg.append("rect").attr("x",left).attr("y",top-stripH).attr("width",panelW).attr("height",stripH)
    .attr("fill","#fff").attr("stroke","#000").attr("stroke-width",2);
  svg.append("text").attr("x",left+panelW/2).attr("y",top-stripH/2)
    .attr("text-anchor","middle").attr("dominant-baseline","central")
    .attr("font-family",FONT).attr("font-size",21.5).attr("fill","#1a1a1a").text(p.name);

  // annotations (first panel only)
  if(i===0){
    const annoColor = m => m==="OBS" ? "#8c8c8c" : modelColors[m];
    annoText.forEach((t,k)=>{
      svg.append("line")
        .attr("x1",x(leadYear1[k])).attr("y1",y(leadValue1[k]))
        .attr("x2",x(leadYear2[k])).attr("y2",y(leadValue2[k]))
        .attr("stroke", annoModel[k]==="OBS" ? "#555" : annoColor(annoModel[k]))
        .attr("stroke-width",1.7);
      svg.append("text").attr("x",x(annoYear[k])).attr("y",y(annoValue[k]))
        .attr("text-anchor","middle").attr("dominant-baseline","central")
        .attr("font-family",FONT).attr("font-size",27)
        .attr("fill",annoColor(annoModel[k])).text(t);
    });
  }
});

// y-axis title
svg.append("text").attr("transform","translate(25,517) rotate(-90)")
  .attr("text-anchor","middle").attr("dominant-baseline","central")
  .attr("font-family",FONT).attr("font-size",26.5).attr("fill","#1a1a1a")
  .text("Predicted mean count");
</script>
</body></html>
